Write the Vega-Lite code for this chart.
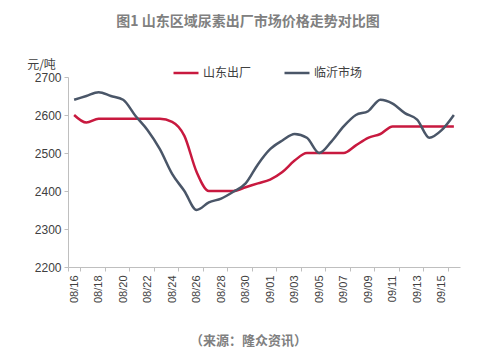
{
  "$schema": "https://vega.github.io/schema/vega-lite/v6.json",
  "width": 392,
  "height": 190,
  "autosize": {"type": "none"},
  "padding": {"left": 68, "top": 77, "right": 40, "bottom": 91},
  "background": "white",
  "title": {
    "text": "图1 山东区域尿素出厂市场价格走势对比图",
    "font": "Noto Sans CJK SC",
    "fontSize": 14,
    "fontWeight": "bold",
    "color": "#808080",
    "anchor": "middle",
    "frame": "group",
    "dx": -16,
    "offset": 29
  },
  "config": {
    "view": {"stroke": null},
    "font": "Noto Sans CJK SC"
  },
  "data": {
    "values": [
      {"date": "08/16", "series": "山东出厂", "value": 2600},
      {"date": "08/17", "series": "山东出厂", "value": 2580},
      {"date": "08/18", "series": "山东出厂", "value": 2590},
      {"date": "08/19", "series": "山东出厂", "value": 2590},
      {"date": "08/20", "series": "山东出厂", "value": 2590},
      {"date": "08/21", "series": "山东出厂", "value": 2590},
      {"date": "08/22", "series": "山东出厂", "value": 2590},
      {"date": "08/23", "series": "山东出厂", "value": 2590},
      {"date": "08/24", "series": "山东出厂", "value": 2582},
      {"date": "08/25", "series": "山东出厂", "value": 2545},
      {"date": "08/26", "series": "山东出厂", "value": 2450},
      {"date": "08/27", "series": "山东出厂", "value": 2400},
      {"date": "08/28", "series": "山东出厂", "value": 2400},
      {"date": "08/29", "series": "山东出厂", "value": 2400},
      {"date": "08/30", "series": "山东出厂", "value": 2410},
      {"date": "08/31", "series": "山东出厂", "value": 2420},
      {"date": "09/01", "series": "山东出厂", "value": 2430},
      {"date": "09/02", "series": "山东出厂", "value": 2450},
      {"date": "09/03", "series": "山东出厂", "value": 2480},
      {"date": "09/04", "series": "山东出厂", "value": 2500},
      {"date": "09/05", "series": "山东出厂", "value": 2500},
      {"date": "09/06", "series": "山东出厂", "value": 2500},
      {"date": "09/07", "series": "山东出厂", "value": 2500},
      {"date": "09/08", "series": "山东出厂", "value": 2520},
      {"date": "09/09", "series": "山东出厂", "value": 2540},
      {"date": "09/10", "series": "山东出厂", "value": 2550},
      {"date": "09/11", "series": "山东出厂", "value": 2570},
      {"date": "09/12", "series": "山东出厂", "value": 2570},
      {"date": "09/13", "series": "山东出厂", "value": 2570},
      {"date": "09/14", "series": "山东出厂", "value": 2570},
      {"date": "09/15", "series": "山东出厂", "value": 2570},
      {"date": "09/16", "series": "山东出厂", "value": 2570},
      {"date": "08/16", "series": "临沂市场", "value": 2640},
      {"date": "08/17", "series": "临沂市场", "value": 2650},
      {"date": "08/18", "series": "临沂市场", "value": 2660},
      {"date": "08/19", "series": "临沂市场", "value": 2650},
      {"date": "08/20", "series": "临沂市场", "value": 2640},
      {"date": "08/21", "series": "临沂市场", "value": 2598},
      {"date": "08/22", "series": "临沂市场", "value": 2560},
      {"date": "08/23", "series": "临沂市场", "value": 2510},
      {"date": "08/24", "series": "临沂市场", "value": 2445},
      {"date": "08/25", "series": "临沂市场", "value": 2400},
      {"date": "08/26", "series": "临沂市场", "value": 2350},
      {"date": "08/27", "series": "临沂市场", "value": 2370},
      {"date": "08/28", "series": "临沂市场", "value": 2380},
      {"date": "08/29", "series": "临沂市场", "value": 2398},
      {"date": "08/30", "series": "临沂市场", "value": 2420},
      {"date": "08/31", "series": "临沂市场", "value": 2470},
      {"date": "09/01", "series": "临沂市场", "value": 2510},
      {"date": "09/02", "series": "临沂市场", "value": 2533},
      {"date": "09/03", "series": "临沂市场", "value": 2550},
      {"date": "09/04", "series": "临沂市场", "value": 2540},
      {"date": "09/05", "series": "临沂市场", "value": 2500},
      {"date": "09/06", "series": "临沂市场", "value": 2530},
      {"date": "09/07", "series": "临沂市场", "value": 2570},
      {"date": "09/08", "series": "临沂市场", "value": 2600},
      {"date": "09/09", "series": "临沂市场", "value": 2610},
      {"date": "09/10", "series": "临沂市场", "value": 2640},
      {"date": "09/11", "series": "临沂市场", "value": 2630},
      {"date": "09/12", "series": "临沂市场", "value": 2605},
      {"date": "09/13", "series": "临沂市场", "value": 2588},
      {"date": "09/14", "series": "临沂市场", "value": 2540},
      {"date": "09/15", "series": "临沂市场", "value": 2560},
      {"date": "09/16", "series": "临沂市场", "value": 2600}
    ]
  },
  "mark": {"type": "line", "interpolate": "monotone", "strokeWidth": 2.5},
  "encoding": {
    "x": {
      "field": "date",
      "type": "ordinal",
      "sort": null,
      "scale": {"type": "band", "paddingInner": 0, "paddingOuter": 0},
      "axis": {
        "values": ["08/16", "08/18", "08/20", "08/22", "08/24", "08/26", "08/28", "08/30", "09/01", "09/03", "09/05", "09/07", "09/09", "09/11", "09/13", "09/15"],
        "tickBand": "extent",
        "labelAngle": -90,
        "labelAlign": "right",
        "labelBaseline": "middle",
        "labelFont": "Liberation Sans",
        "labelFontSize": 11,
        "labelColor": "#404040",
        "labelPadding": 4,
        "tickSize": 4,
        "tickColor": "#bfbfbf",
        "domainColor": "#bfbfbf",
        "grid": false,
        "title": "（来源：隆众资讯）",
        "titleFont": "Noto Sans CJK SC",
        "titleFontSize": 13,
        "titleFontWeight": "bold",
        "titleColor": "#808080",
        "titleX": 180,
        "titleY": 73,
        "titleBaseline": "middle",
        "titleAlign": "center"
      }
    },
    "y": {
      "field": "value",
      "type": "quantitative",
      "scale": {"domain": [2200, 2700], "nice": false, "zero": false},
      "axis": {
        "values": [2200, 2300, 2400, 2500, 2600, 2700],
        "format": "d",
        "grid": false,
        "labelFont": "Liberation Sans",
        "labelFontSize": 12,
        "labelColor": "#404040",
        "labelPadding": 3,
        "tickSize": 4,
        "tickColor": "#bfbfbf",
        "domainColor": "#bfbfbf",
        "title": "元/吨",
        "titleAngle": 0,
        "titleFont": "Noto Sans CJK SC",
        "titleFontSize": 12,
        "titleFontWeight": "normal",
        "titleColor": "#404040",
        "titleX": -27,
        "titleY": -13,
        "titleAlign": "center",
        "titleBaseline": "middle"
      }
    },
    "color": {
      "field": "series",
      "type": "nominal",
      "scale": {"domain": ["山东出厂", "临沂市场"], "range": ["#C8193F", "#4A5668"]},
      "legend": {
        "title": null,
        "orient": "none",
        "direction": "horizontal",
        "legendX": 104,
        "legendY": -18,
        "symbolType": "stroke",
        "symbolSize": 625,
        "symbolStrokeWidth": 2.5,
        "labelFont": "Noto Sans CJK SC",
        "labelFontSize": 12,
        "labelColor": "#404040",
        "labelOffset": 3,
        "columnPadding": 27
      }
    }
  }
}
